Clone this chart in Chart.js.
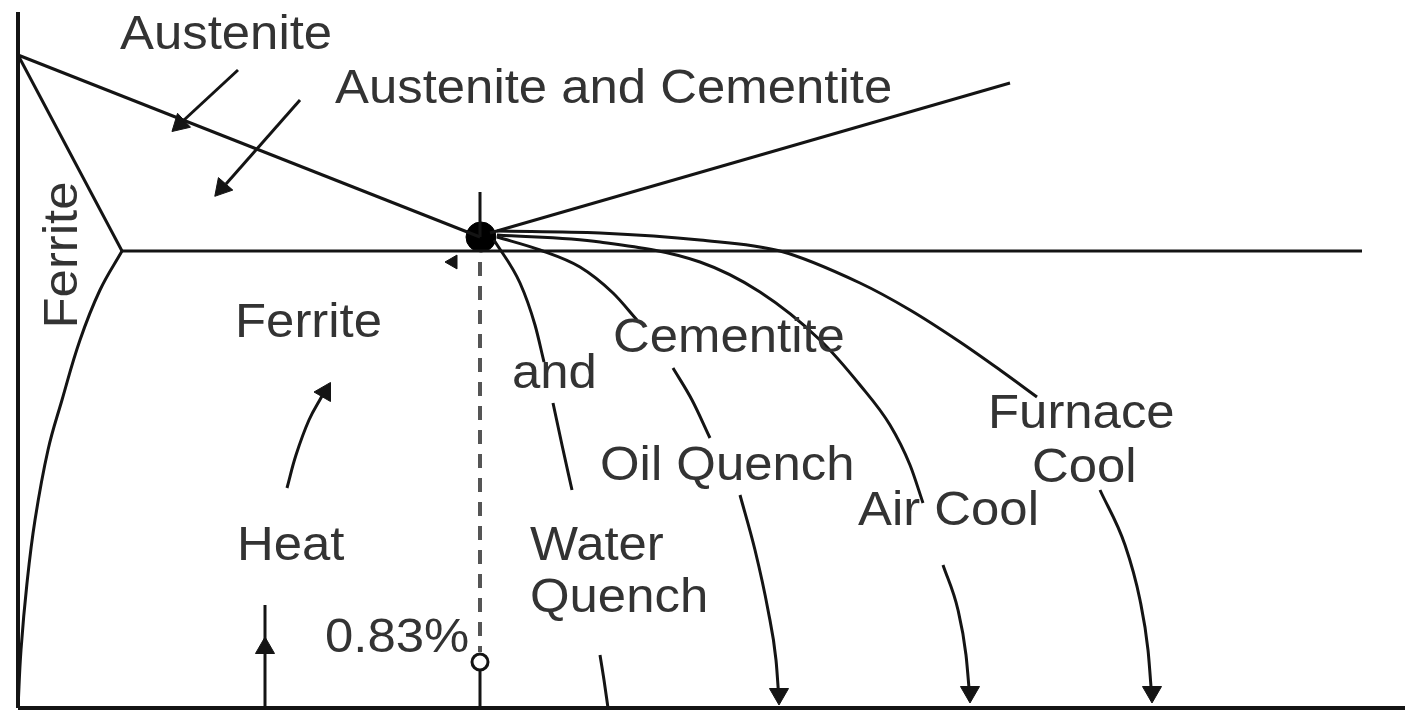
<!DOCTYPE html>
<html>
<head>
<meta charset="utf-8">
<script src="https://cdn.jsdelivr.net/npm/chart.js@4.4.1/dist/chart.umd.min.js"></script>
<style>
  html, body { margin: 0; padding: 0; background: #fff; }
  canvas { display: block; }
</style>
</head>
<body>
<canvas id="phaseChart" width="1405" height="713"></canvas>
<script>
// diagram values (x to the right, y downwards)
const axisLeft = [[18, 12], [18, 708]];
const axisBottom = [[18, 708], [1405, 708]];
const austeniteLine = [[18, 55], [480, 237]];
const ferriteUpper = [[18, 55], [122, 251]];
const ferriteLower = [[122, 251], [100, 290], [80, 340], [62, 400], [48, 450], [35, 520], [27, 583], [21, 650], [18, 708]];
const criticalLine = [[122, 251], [1362, 251]];
const cementiteLine = [[490, 233], [1010, 83]];
const eutectoidTick = [[480, 192], [480, 237]];
const compositionDash = [[480, 262], [480, 652]];
const compositionFoot = [[480, 671], [480, 708]];

const waterQuench = [
  [[494, 240], [520, 283], [535, 325], [544, 362]],
  [[553, 403], [562, 445], [572, 490]],
  [[600, 655], [604, 680], [608, 708]]
];
const oilQuench = [
  [[497, 237], [540, 250], [580, 267], [613, 293], [637, 320]],
  [[673, 368], [692, 400], [710, 438]],
  [[740, 495], [755, 550], [768, 610], [776, 660], [779, 700]]
];
const airCool = [
  [[497, 235], [600, 242], [700, 262], [760, 292], [820, 340], [860, 385], [890, 425], [910, 465], [923, 503]],
  [[943, 565], [958, 610], [966, 655], [970, 700]]
];
const furnaceCool = [
  [[497, 231], [600, 233], [700, 240], [780, 251], [860, 283], [910, 310], [960, 342], [1000, 370], [1037, 397]],
  [[1100, 490], [1125, 545], [1140, 600], [1148, 650], [1152, 700]]
];

const austeniteArrow = [[238, 70], [184, 120]];
const mixArrow = [[300, 100], [226, 184]];
const heatCurve = [[287, 488], [296, 455], [309, 420], [322, 396]];
const heatArrow = [[265, 708], [265, 605]];

// arrow heads: x, y, direction in degrees (0 = up, clockwise)
const arrowHeads = [
  [180, 124, 227], [222, 188, 221], [325, 392, 30], [265, 648, 0],
  [779, 694, 180], [970, 692, 180], [1152, 692, 180], [453, 262, 150]
];
const eutectoidPoint = [[481, 237]];
const compositionMark = [[480, 662]];

const labels = ['Austenite', 'Austenite and Cementite', 'Ferrite', 'Ferrite', 'and', 'Cementite',
  'Furnace', 'Cool', 'Oil Quench', 'Air Cool', 'Heat', 'Water', 'Quench', '0.83%'];
const labelAnchors = [[120, 49], [335, 103], [64, 255], [235, 337], [512, 388], [613, 352],
  [988, 428], [1032, 482], [600, 480], [858, 525], [237, 560], [530, 560], [530, 612], [325, 652]];
const labelRotation = [0, 0, -90, 0, 0, 0, 0, 0, 0, 0, 0, 0, 0, 0];

const ink = '#141414';

const toXY = (pts) => pts.map(([x, y]) => ({ x, y }));

const line = (pts, extra) => Object.assign({
  data: toXY(pts),
  showLine: true,
  borderColor: ink,
  borderWidth: 3,
  pointRadius: 0,
  tension: 0,
  fill: false
}, extra || {});

const datasets = [
  line(axisLeft, { borderWidth: 4 }),
  line(axisBottom, { borderWidth: 4 }),
  line(austeniteLine),
  line(ferriteUpper),
  line(ferriteLower, { tension: 0.4 }),
  line(criticalLine),
  line(cementiteLine),
  line(eutectoidTick),
  line(compositionDash, { borderDash: [14, 10], borderColor: '#555', borderWidth: 4 }),
  line(compositionFoot),
  line(austeniteArrow),
  line(mixArrow),
  line(heatCurve, { tension: 0.4 }),
  line(heatArrow)
];

// cooling curves all run left to right, so monotone splines keep them smooth
[waterQuench, oilQuench, airCool, furnaceCool].forEach((curve) => {
  curve.forEach((seg) => datasets.push(line(seg, { cubicInterpolationMode: 'monotone' })));
});

datasets.push({
  data: arrowHeads.map(([x, y]) => ({ x, y })),
  pointStyle: 'triangle',
  pointRadius: arrowHeads.map((a, i) => (i === arrowHeads.length - 1 ? 8 : 11)),
  rotation: arrowHeads.map((a) => a[2]),
  backgroundColor: ink,
  borderColor: ink,
  borderWidth: 1,
  showLine: false
});
datasets.push({
  data: toXY(eutectoidPoint),
  pointStyle: 'circle',
  pointRadius: 15,
  backgroundColor: '#000',
  borderColor: '#000',
  showLine: false
});
datasets.push({
  data: toXY(compositionMark),
  pointStyle: 'circle',
  pointRadius: 8,
  backgroundColor: '#fff',
  borderColor: ink,
  borderWidth: 3,
  showLine: false
});

const labelPlugin = {
  id: 'phaseLabels',
  afterDatasetsDraw(chart) {
    const { ctx, scales } = chart;
    ctx.save();
    ctx.font = '48px "Liberation Sans", Arial, sans-serif';
    ctx.fillStyle = '#333';
    labels.forEach((text, i) => {
      const px = scales.x.getPixelForValue(labelAnchors[i][0]);
      const py = scales.y.getPixelForValue(labelAnchors[i][1]);
      ctx.save();
      ctx.translate(px, py);
      if (labelRotation[i]) {
        ctx.rotate(labelRotation[i] * Math.PI / 180);
        ctx.textAlign = 'center';
        ctx.textBaseline = 'middle';
      } else {
        ctx.textAlign = 'left';
        ctx.textBaseline = 'alphabetic';
      }
      // the original lettering is a little wider than Arial
      ctx.scale(1.06, 1);
      ctx.fillText(text, 0, 0);
      ctx.restore();
    });
    ctx.restore();
  }
};

new Chart(document.getElementById('phaseChart'), {
  type: 'scatter',
  data: { datasets },
  options: {
    responsive: false,
    animation: false,
    layout: { padding: 0, autoPadding: false },
    plugins: { legend: { display: false }, tooltip: { enabled: false } },
    scales: {
      x: { type: 'linear', min: 0, max: 1405, display: false },
      y: { type: 'linear', min: 0, max: 713, reverse: true, display: false }
    }
  },
  plugins: [labelPlugin]
});
</script>
</body>
</html>
